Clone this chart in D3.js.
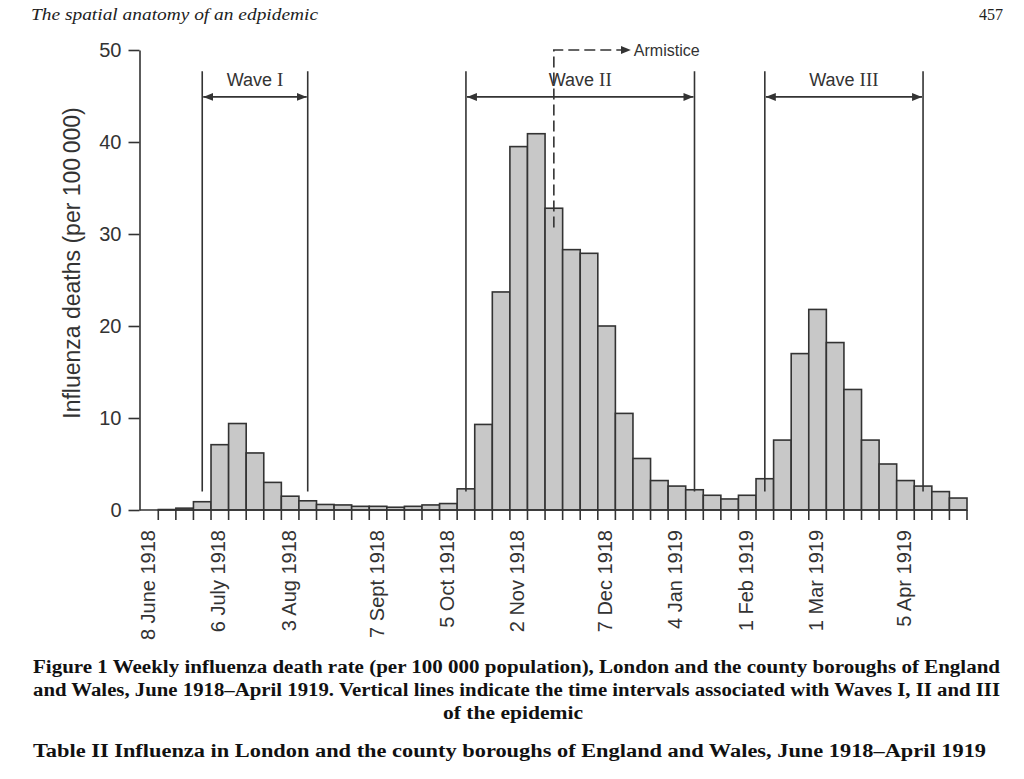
<!DOCTYPE html>
<html>
<head>
<meta charset="utf-8">
<script src="https://cdn.jsdelivr.net/npm/d3@7/dist/d3.min.js"></script>
<style>
  html, body { margin: 0; padding: 0; background: #ffffff; }
  svg { display: block; }
</style>
</head>
<body>
<svg id="chart" width="1024" height="779"></svg>
<script>
// ---- data ----
const categories = [
  "1918-06-08","1918-06-15","1918-06-22","1918-06-29","1918-07-06","1918-07-13","1918-07-20","1918-07-27",
  "1918-08-03","1918-08-10","1918-08-17","1918-08-24","1918-08-31","1918-09-07","1918-09-14","1918-09-21",
  "1918-09-28","1918-10-05","1918-10-12","1918-10-19","1918-10-26","1918-11-02","1918-11-09","1918-11-16",
  "1918-11-23","1918-11-30","1918-12-07","1918-12-14","1918-12-21","1918-12-28","1919-01-04","1919-01-11",
  "1919-01-18","1919-01-25","1919-02-01","1919-02-08","1919-02-15","1919-02-22","1919-03-01","1919-03-08",
  "1919-03-15","1919-03-22","1919-03-29","1919-04-05","1919-04-12","1919-04-19","1919-04-26"
];
const rates = [
  0.0, 0.05, 0.2, 0.9, 7.1, 9.4, 6.2, 3.0,
  1.5, 1.0, 0.6, 0.55, 0.4, 0.4, 0.3, 0.4,
  0.55, 0.7, 2.3, 9.3, 23.7, 39.5, 40.9, 32.8,
  28.3, 27.9, 20.0, 10.5, 5.6, 3.2, 2.6, 2.2,
  1.6, 1.2, 1.6, 3.4, 7.6, 17.0, 21.8, 18.2,
  13.1, 7.6, 5.0, 3.2, 2.6, 2.0, 1.3
];
const tickWeeks = ["1918-06-08","1918-07-06","1918-08-03","1918-09-07","1918-10-05","1918-11-02",
                   "1918-12-07","1919-01-04","1919-02-01","1919-03-01","1919-04-05"];
const tickLabels = ["8 June 1918","6 July 1918","3 Aug 1918","7 Sept 1918","5 Oct 1918","2 Nov 1918",
                    "7 Dec 1918","4 Jan 1919","1 Feb 1919","1 Mar 1919","5 Apr 1919"];
const yTicks = [0, 10, 20, 30, 40, 50];
const waveNames = ["I", "II", "III"];
const waveStarts = ["1918-06-29", "1918-10-12", "1919-02-08"];
const waveEnds = ["1918-08-10", "1919-01-11", "1919-04-12"];
const armisticeWeek = "1918-11-16";
const yTitle = "Influenza deaths (per 100\u2009000)";
const captionLines = [
  "Figure 1 Weekly influenza death rate (per 100 000 population), London and the county boroughs of England",
  "and Wales, June 1918\u2013April 1919. Vertical lines indicate the time intervals associated with Waves I, II and III",
  "of the epidemic"
];
const tableLine = "Table II Influenza in London and the county boroughs of England and Wales, June 1918\u2013April 1919";

// ---- layout ----
const svg = d3.select("#chart");
const ink = "#333333";
const x = d3.scaleBand().domain(categories).range([140.7, 967]).padding(0);
const y = d3.scaleLinear().domain([0, 50]).range([510, 50]);
const axisX = 139.5;

const defs = svg.append("defs");
defs.append("marker").attr("id", "ah").attr("viewBox", "0 0 10 10")
  .attr("refX", 10).attr("refY", 5).attr("markerWidth", 10).attr("markerHeight", 10)
  .attr("markerUnits", "userSpaceOnUse").attr("orient", "auto-start-reverse")
  .append("path").attr("d", "M0,1 L10,5 L0,9 Z").attr("fill", ink);

// header
svg.append("text").attr("x", 31).attr("y", 20)
  .attr("font-family", "Liberation Serif, serif").attr("font-style", "italic")
  .attr("font-size", 16).attr("fill", "#222")
  .attr("textLength", 287).attr("lengthAdjust", "spacingAndGlyphs")
  .text("The spatial anatomy of an edpidemic");
svg.append("text").attr("x", 1003).attr("y", 20).attr("text-anchor", "end")
  .attr("font-family", "Liberation Serif, serif").attr("font-size", 16).attr("fill", "#222")
  .text("457");

// bars
svg.append("g").selectAll("rect").data(categories).join("rect")
  .attr("x", d => x(d))
  .attr("y", (d, i) => y(rates[i]))
  .attr("width", x.bandwidth())
  .attr("height", (d, i) => y(0) - y(rates[i]))
  .attr("fill", "#c8c8c8").attr("stroke", ink).attr("stroke-width", 1.6);

// y axis
const ya = svg.append("g").attr("transform", `translate(${axisX},0)`)
  .call(d3.axisLeft(y).tickValues(yTicks).tickSize(11).tickSizeOuter(0).tickPadding(7));
ya.select(".domain").attr("stroke", ink).attr("stroke-width", 1.6);
ya.selectAll(".tick line").attr("stroke", ink).attr("stroke-width", 1.6);
ya.selectAll(".tick text").attr("font-family", "Liberation Sans, Arial, sans-serif")
  .attr("font-size", 20).attr("fill", ink);

// x baseline and ticks at week boundaries
svg.append("line").attr("x1", axisX).attr("x2", x.range()[1])
  .attr("y1", y(0)).attr("y2", y(0)).attr("stroke", ink).attr("stroke-width", 1.6);
const boundaries = categories.slice(1).map(d => x(d)).concat([x.range()[1]]);
svg.append("g").selectAll("line").data(boundaries).join("line")
  .attr("x1", d => d).attr("x2", d => d)
  .attr("y1", y(0)).attr("y2", y(0) + 10)
  .attr("stroke", ink).attr("stroke-width", 1.6);

// x labels
svg.append("g").selectAll("text").data(tickWeeks).join("text")
  .attr("transform", d => `translate(${x(d) + x.bandwidth() / 2 - 1.5},530) rotate(-90)`)
  .attr("text-anchor", "end").attr("dy", "0.35em")
  .attr("font-family", "Liberation Sans, Arial, sans-serif").attr("font-size", 20).attr("fill", ink)
  .text((d, i) => tickLabels[i]);

// y title
svg.append("text").attr("transform", "translate(80,263) rotate(-90)")
  .attr("text-anchor", "middle")
  .attr("font-family", "Liberation Sans, Arial, sans-serif").attr("font-size", 23).attr("fill", ink)
  .text(yTitle);

// waves
const cx = d => x(d) + x.bandwidth() / 2;
const waves = svg.append("g");
waveNames.forEach((name, i) => {
  const x0 = cx(waveStarts[i]), x1 = cx(waveEnds[i]);
  [x0, x1].forEach(xx => {
    waves.append("line").attr("x1", xx).attr("x2", xx)
      .attr("y1", y(2)).attr("y2", y(47.7))
      .attr("stroke", ink).attr("stroke-width", 1.6);
  });
  waves.append("line").attr("x1", x0 + 1).attr("x2", x1 - 1)
    .attr("y1", y(44.9)).attr("y2", y(44.9))
    .attr("stroke", ink).attr("stroke-width", 1.6)
    .attr("marker-start", "url(#ah)").attr("marker-end", "url(#ah)");
  const t = waves.append("text").attr("x", (x0 + x1) / 2).attr("y", y(44.9) - 10.5)
    .attr("text-anchor", "middle").attr("fill", ink);
  t.append("tspan").attr("font-family", "Liberation Sans, Arial, sans-serif").attr("font-size", 18).text("Wave ");
  t.append("tspan").attr("font-family", "Liberation Serif, serif").attr("font-size", 19).text(name);
});

// armistice
const ax = cx(armisticeWeek);
svg.append("path")
  .attr("d", `M${ax},${y(30.7)} L${ax},${y(50)} L${ax + 77},${y(50)}`)
  .attr("fill", "none").attr("stroke", ink).attr("stroke-width", 1.6)
  .attr("stroke-dasharray", "11,5")
  .attr("marker-end", "url(#ah)");
svg.append("text").attr("x", ax + 80).attr("y", y(50) + 5.7)
  .attr("font-family", "Liberation Sans, Arial, sans-serif").attr("font-size", 16).attr("fill", ink)
  .text("Armistice");

// caption
const capFont = "Liberation Serif, serif";
svg.append("text").attr("x", 33).attr("y", 673)
  .attr("font-family", capFont).attr("font-weight", "bold").attr("font-size", 18).attr("fill", "#111")
  .attr("textLength", 967).attr("lengthAdjust", "spacingAndGlyphs").text(captionLines[0]);
svg.append("text").attr("x", 33).attr("y", 696)
  .attr("font-family", capFont).attr("font-weight", "bold").attr("font-size", 18).attr("fill", "#111")
  .attr("textLength", 967).attr("lengthAdjust", "spacingAndGlyphs").text(captionLines[1]);
svg.append("text").attr("x", 443).attr("y", 719)
  .attr("font-family", capFont).attr("font-weight", "bold").attr("font-size", 18).attr("fill", "#111")
  .attr("textLength", 140).attr("lengthAdjust", "spacingAndGlyphs")
  .text(captionLines[2]);
svg.append("text").attr("x", 33).attr("y", 757)
  .attr("font-family", capFont).attr("font-weight", "bold").attr("font-size", 18).attr("fill", "#111")
  .attr("textLength", 953).attr("lengthAdjust", "spacingAndGlyphs").text(tableLine);
</script>
</body>
</html>
